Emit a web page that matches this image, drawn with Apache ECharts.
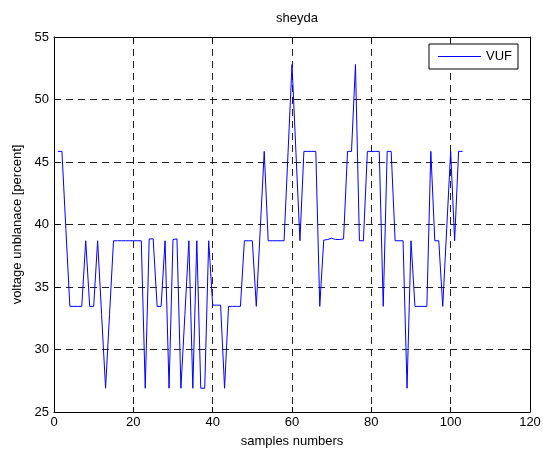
<!DOCTYPE html>
<html>
<head>
<meta charset="utf-8">
<script src="https://cdn.jsdelivr.net/npm/echarts@6/dist/echarts.min.js"></script>
<style>
html,body{margin:0;padding:0;background:#fff;}
#chart{width:543px;height:449px;}
</style>
</head>
<body>
<div id="chart"></div>
<script>
var titleText = 'sheyda';
var xName = 'samples numbers';
var yName = 'voltage unblanace [percent]';
var seriesName = 'VUF';
var xTicks = [0, 20, 40, 60, 80, 100, 120];
var yTicks = [25, 30, 35, 40, 45, 50, 55];
var vuf = [
  45.85, 45.85, 39.6, 33.45, 33.45, 33.45, 33.45, 38.7, 33.45, 33.45,
  38.7, 32.8, 26.9, 32.8, 38.7, 38.7, 38.7, 38.7, 38.7, 38.7,
  38.7, 38.7, 26.9, 38.85, 38.85, 33.45, 33.45, 38.7, 26.9, 38.8,
  38.85, 26.9, 32.8, 38.7, 26.9, 38.7, 26.9, 26.9, 38.7, 33.55,
  33.55, 33.55, 26.9, 33.45, 33.45, 33.45, 33.45, 38.7, 38.7, 38.7,
  33.45, 39.65, 45.85, 38.7, 38.7, 38.7, 38.7, 38.7, 45.75, 52.8,
  45.75, 38.7, 45.85, 45.85, 45.85, 45.85, 33.45, 38.75, 38.8, 38.9,
  38.8, 38.8, 38.85, 45.85, 45.85, 52.8, 38.7, 38.7, 45.85, 45.85,
  45.85, 45.85, 33.45, 45.85, 45.85, 38.7, 38.7, 38.7, 26.9, 38.7,
  33.45, 33.45, 33.45, 33.45, 45.85, 38.7, 38.7, 33.45, 39.65, 45.85,
  38.7, 45.85, 45.85
];
var samples = vuf.map(function (v, i) { return [i + 1, v]; });

var font = 'Liberation Sans, Arial, Helvetica, sans-serif';
var gridLine = {show: true, lineStyle: {color: '#222', type: [7, 5], width: 1}};
var chart = echarts.init(document.getElementById('chart'), null, {renderer: 'canvas'});
chart.setOption({
  backgroundColor: '#ffffff',
  animation: false,
  title: {
    text: titleText, left: 292, top: 7, textAlign: 'center',
    textStyle: {fontFamily: font, fontSize: 13, fontWeight: 'normal', color: '#000'}
  },
  legend: {
    data: [{name: seriesName, icon: 'rect'}], right: 25, top: 44,
    borderColor: '#000', borderWidth: 1, backgroundColor: '#fff',
    padding: [5, 6, 5, 9], itemWidth: 43, itemHeight: 1, itemGap: 5,
    textStyle: {fontFamily: font, fontSize: 13, color: '#000', lineHeight: 15}
  },
  grid: {left: 54, right: 13, top: 37, bottom: 37, containLabel: false, outerBoundsMode: 'none'},
  xAxis: [{
    type: 'value', min: 0, max: 120, interval: 20,
    name: xName, nameLocation: 'middle', nameGap: 23,
    nameTextStyle: {fontFamily: font, fontSize: 13, color: '#000'},
    axisLine: {show: true, onZero: false, lineStyle: {color: '#000', width: 1}},
    axisTick: {show: true, inside: true, length: 5, lineStyle: {color: '#000'}},
    axisLabel: {fontFamily: font, fontSize: 13, color: '#000', margin: 4},
    splitLine: gridLine
  }, {
    type: 'value', min: 0, max: 120, interval: 20, position: 'top',
    axisLine: {show: true, onZero: false, lineStyle: {color: '#000', width: 1}},
    axisTick: {show: true, inside: true, length: 5, lineStyle: {color: '#000'}},
    axisLabel: {show: false}, splitLine: {show: false}
  }],
  yAxis: [{
    type: 'value', min: 25, max: 55, interval: 5,
    name: yName, nameLocation: 'middle', nameGap: 29,
    nameTextStyle: {fontFamily: font, fontSize: 13, color: '#000'},
    axisLine: {show: true, onZero: false, lineStyle: {color: '#000', width: 1}},
    axisTick: {show: true, inside: true, length: 5, lineStyle: {color: '#000'}},
    axisLabel: {fontFamily: font, fontSize: 13, color: '#000', margin: 5},
    splitLine: gridLine
  }, {
    type: 'value', min: 25, max: 55, interval: 5, position: 'right',
    axisLine: {show: true, onZero: false, lineStyle: {color: '#000', width: 1}},
    axisTick: {show: true, inside: true, length: 5, lineStyle: {color: '#000'}},
    axisLabel: {show: false}, splitLine: {show: false}
  }],
  series: [{
    name: seriesName, type: 'line', data: samples,
    symbol: 'none', showSymbol: false,
    lineStyle: {color: '#0000ff', width: 1},
    itemStyle: {color: '#0000ff'}
  }]
});
</script>
</body>
</html>
